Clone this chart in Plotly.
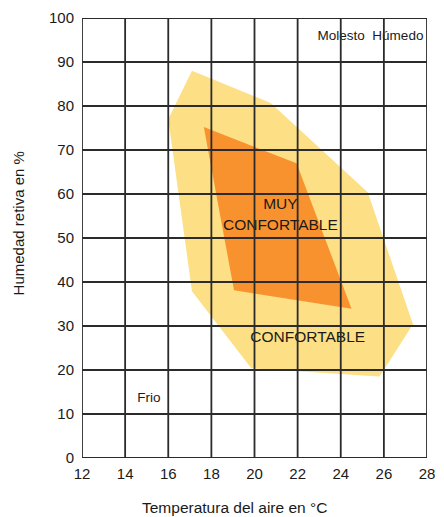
import plotly.graph_objects as go

# Data
x_ticks = [12, 14, 16, 18, 20, 22, 24, 26, 28]
y_ticks = [0, 10, 20, 30, 40, 50, 60, 70, 80, 90, 100]

confortable_temp = [17.1, 16.0, 17.1, 19.85, 25.8, 27.35, 25.25, 20.75]
confortable_hum = [88.0, 77.0, 37.9, 20.4, 18.5, 30.4, 60.4, 80.7]

muy_temp = [17.65, 21.95, 24.5, 19.05]
muy_hum = [75.2, 67.0, 33.9, 38.1]

label_text = ["Molesto  Húmedo", "Frio", "MUY<br>CONFORTABLE", "CONFORTABLE"]
label_temp = [25.38, 15.1, 21.2, 22.47]
label_hum = [95.8, 13.6, 55.1, 27.3]
label_size = [13.5, 13.5, 15.5, 15.5]

FONT = "Arial, Liberation Sans, sans-serif"

fig = go.Figure()
fig.add_trace(go.Scatter(
    x=confortable_temp, y=confortable_hum, fill="toself", mode="lines",
    line=dict(width=0), fillcolor="#FDDF86", hoverinfo="skip", showlegend=False))
fig.add_trace(go.Scatter(
    x=muy_temp, y=muy_hum, fill="toself", mode="lines",
    line=dict(width=0), fillcolor="#F8922F", hoverinfo="skip", showlegend=False))
for t, xx, yy, s in zip(label_text, label_temp, label_hum, label_size):
    fig.add_trace(go.Scatter(
        x=[xx], y=[yy], mode="text", text=[t],
        textfont=dict(family=FONT, size=s, color="#1a1a1a"),
        textposition="middle center", hoverinfo="skip", showlegend=False))

shapes = []
grid_col = "#2b2b2b"
for xv in x_ticks:
    shapes.append(dict(type="line", xref="x", yref="y", x0=xv, x1=xv,
                       y0=y_ticks[0], y1=y_ticks[-1], layer="above",
                       line=dict(color=grid_col, width=1.8)))
for yv in y_ticks:
    shapes.append(dict(type="line", xref="x", yref="y", x0=x_ticks[0], x1=x_ticks[-1],
                       y0=yv, y1=yv, layer="above",
                       line=dict(color=grid_col, width=1.8)))

fig.update_layout(
    width=444, height=517,
    margin=dict(l=82, r=9, t=18, b=59),
    paper_bgcolor="white", plot_bgcolor="white",
    shapes=shapes,
    font=dict(family=FONT, color="#1a1a1a"),
    xaxis=dict(range=[12, 28], tickvals=x_ticks, ticktext=[str(v) for v in x_ticks],
               showgrid=False, zeroline=False, showline=False, ticks="",
               ticklabelstandoff=5,
               tickfont=dict(size=15, family=FONT, color="#1a1a1a")),
    yaxis=dict(range=[0, 100], tickvals=y_ticks, ticktext=[str(v) for v in y_ticks],
               showgrid=False, zeroline=False, showline=False, ticks="",
               ticklabelstandoff=7,
               tickfont=dict(size=15, family=FONT, color="#1a1a1a")),
    annotations=[
        dict(text="Temperatura del aire en °C", xref="paper", yref="paper",
             x=0.441, y=-0.113, showarrow=False, xanchor="center", yanchor="middle",
             font=dict(size=15.5, family=FONT, color="#1a1a1a")),
        dict(text="Humedad retiva en %", xref="paper", yref="paper",
             x=-0.1835, y=0.5325, showarrow=False, textangle=-90,
             xanchor="center", yanchor="middle",
             font=dict(size=15, family=FONT, color="#1a1a1a")),
    ],
)

fig.write_html(
    "out.html",
    config={"displayModeBar": False, "responsive": False},
    post_script="document.body.style.margin='0px';document.body.style.overflow='hidden';",
)
